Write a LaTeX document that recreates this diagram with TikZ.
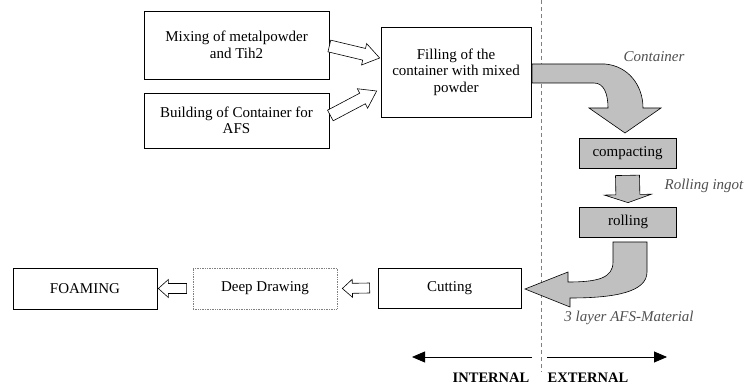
\documentclass[tikz,border=0pt]{standalone}
\usepackage{fontspec}
\setmainfont{Liberation Serif}
\usetikzlibrary{calc,arrows.meta}
\definecolor{boxgray}{HTML}{C0C0C0}
\definecolor{labelgray}{HTML}{505050}
\tikzset{
  every node/.style={font=\fontsize{15}{16.5}\selectfont},
  box/.style={draw, line width=0.7pt, align=center, inner sep=2pt},
  greybox/.style={box, fill=boxgray},
  dotbox/.style={box, draw=gray, densely dotted},
  hollow/.style={draw, line width=0.6pt, fill=white},
  grayarrow/.style={draw, line width=0.6pt, fill=boxgray},
  note/.style={font=\fontsize{15}{16.5}\selectfont\itshape, text=labelgray},
  side/.style={font=\fontsize{14.5}{16}\selectfont\bfseries},
  divider/.style={draw=gray, line width=0.6pt, dash pattern=on 4pt off 3pt},
}
% block arrow: style, from, to, shaft half width, head half width, head length
\newcommand\blockarrow[6]{%
  \coordinate (hb) at ($(#3)!#6!(#2)$);
  \draw[#1] ($(#2)!#4!90:(#3)$) -- ($(hb)!#4!90:(#3)$) -- ($(hb)!#5!90:(#3)$) -- (#3)
    -- ($(hb)!#5!-90:(#3)$) -- ($(hb)!#4!-90:(#3)$) -- ($(#2)!#4!-90:(#3)$) -- cycle;
}
\begin{document}
\begin{tikzpicture}[x=1pt,y=-1pt]
  \useasboundingbox (0,0) rectangle (747,387);
  \node[box, minimum width=185pt, minimum height=68pt] (mix) at (236.5,45) {Mixing of metalpowder\\and Tih2};
  \node[box, minimum width=185pt, minimum height=55pt] (build) at (236.5,120.5) {Building of Container for\\AFS};
  \node[box, minimum width=150pt, minimum height=90pt] (fill) at (456,72) {Filling of the\\container with mixed\\powder};
  \node[greybox, minimum width=97pt, minimum height=30pt] (compact) at (627.5,153) {compacting};
  \node[greybox, minimum width=97pt, minimum height=30pt] (roll) at (628,222) {rolling};
  \node[box, minimum width=143pt, minimum height=40pt] (cut) at (449.5,288) {Cutting};
  \node[dotbox, minimum width=144pt, minimum height=41pt] (deep) at (265,288.5) {Deep Drawing};
  \node[box, minimum width=144pt, minimum height=41pt] (foam) at (85,288.5) {FOAMING};

  \node[note] (lcont) at (654,57) {Container};
  \node[note] (lingot) at (704,186) {Rolling ingot};
  \node[note] (lmat) at (629,318) {3 layer AFS-Material};
  \node[side] (lint) at (491,378) {INTERNAL};
  \node[side] (lext) at (588,378) {EXTERNAL};

  \coordinate (top) at (541,0);
  \coordinate (bot) at (541,372);
  \draw[divider] (top) -- (bot);

  \coordinate (m1) at ($(mix.east)+(0,1)$);
  \coordinate (f1) at ($(fill.west)+(-1,-14)$);
  \coordinate (b1) at ($(build.east)+(1,-5)$);
  \coordinate (f2) at ($(fill.west)+(-4,19)$);
  \blockarrow{hollow}{m1}{f1}{6pt}{11pt}{16pt}
  \blockarrow{hollow}{b1}{f2}{6pt}{11pt}{16pt}

  \coordinate (c1) at ($(cut.west)+(-8,0)$);
  \coordinate (d2) at ($(deep.east)+(5,0)$);
  \coordinate (d1) at ($(deep.west)+(-6,0)$);
  \coordinate (g1) at ($(foam.east)+(1,0)$);
  \blockarrow{hollow}{c1}{d2}{5pt}{9pt}{10pt}
  \blockarrow{hollow}{d1}{g1}{5pt}{9pt}{10pt}

  \coordinate (ca) at ($(compact.south)+(0,7)$);
  \coordinate (ra) at ($(roll.north)+(0,-4)$);
  \blockarrow{grayarrow}{ca}{ra}{12pt}{23.5pt}{8pt}

  \draw[grayarrow] (532,64) -- (605,64) .. controls (628,66) and (643,85) .. (643,108)
    -- (661,108) -- (625,133) -- (589,108) -- (608,108)
    .. controls (608,94) and (604,83) .. (594,83) -- (532,83) -- cycle;
  \draw[grayarrow] (613,242) -- (647,242) -- (647,272) .. controls (647,292) and (615,298) .. (570,298)
    -- (570,307) -- (525,289) -- (568,272) -- (568,282)
    .. controls (598,282) and (613,278) .. (613,262) -- cycle;

  \coordinate (il) at (532,357);
  \coordinate (ifar) at (412,357);
  \coordinate (el) at (547,357);
  \coordinate (efar) at (667,357);
  \draw[line width=0.8pt, -{Triangle[length=13pt,width=11pt]}] (il) -- (ifar);
  \draw[line width=0.8pt, -{Triangle[length=13pt,width=11pt]}] (el) -- (efar);
\end{tikzpicture}
\end{document}
